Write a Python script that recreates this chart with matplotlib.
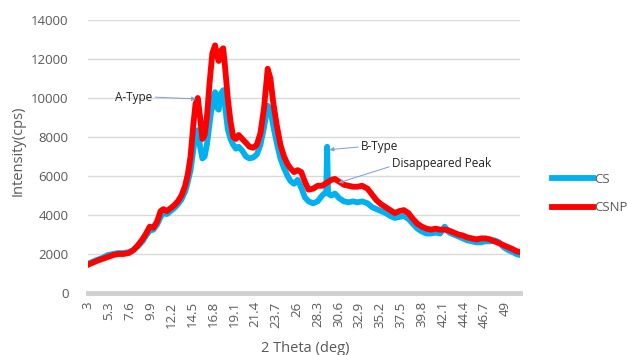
import matplotlib
matplotlib.use('Agg')
import matplotlib.pyplot as plt

# 2-theta positions and intensities (cps) for both samples
theta_csnp = [3.0, 3.5, 4.0, 4.6, 5.2, 5.8, 6.3, 6.9, 7.5, 8.0, 8.5, 9.0, 9.4, 9.8,
              10.2, 10.6, 11.0, 11.3, 11.7, 12.1, 12.5, 12.9, 13.3, 13.7, 14.0, 14.3,
              14.6, 14.85, 15.1, 15.35, 15.6, 15.85, 16.1, 16.4, 16.7, 17.0, 17.2, 17.4,
              17.6, 17.9, 18.1, 18.4, 18.7, 19.0, 19.3, 19.6, 20.0, 20.4, 20.8, 21.2,
              21.6, 22.0, 22.4, 22.8, 23.1, 23.4, 23.8, 24.2, 24.6, 25.0, 25.3, 25.7,
              26.1, 26.5, 26.9, 27.3, 27.8, 28.3, 28.8, 29.3, 29.8, 30.2, 30.7, 31.2,
              31.7, 32.2, 32.7, 33.2, 33.8, 34.3, 34.8, 35.3, 35.8, 36.3, 36.8, 37.3,
              37.8, 38.3, 38.8, 39.3, 39.8, 40.3, 40.8, 41.3, 41.8, 42.3, 42.8, 43.3,
              43.8, 44.3, 44.8, 45.3, 45.8, 46.3, 46.8, 47.3, 47.8, 48.3, 48.8, 49.3,
              49.8, 50.2, 50.6]
csnp = [1450, 1550, 1650, 1750, 1850, 1950, 2000, 2000, 2050, 2200, 2450, 2750, 3050, 3400,
        3350, 3650, 4200, 4300, 4200, 4350, 4500, 4700, 5000, 5500, 6100, 7000,
        8600, 9700, 10000, 9000, 7900, 8100, 9000, 10800, 12300, 12700, 12200, 11900,
        12400, 12550, 11600, 10000, 8800, 8000, 7900, 8100, 7900, 7700, 7500, 7450,
        7600, 8200, 9500, 11500, 11000, 9800, 8600, 7600, 7000, 6600, 6400, 6200,
        6300, 6200, 5700, 5300, 5350, 5500, 5500, 5650, 5800, 5850, 5700, 5550,
        5500, 5450, 5450, 5500, 5350, 5050, 4750, 4550, 4400, 4250, 4100, 4200,
        4250, 4100, 3800, 3550, 3400, 3300, 3250, 3300, 3250, 3250, 3200, 3100,
        3000, 2950, 2850, 2800, 2750, 2800, 2800, 2750, 2650, 2550, 2450, 2350,
        2250, 2150, 2100]

theta_cs = [3.0, 3.5, 4.0, 4.6, 5.2, 5.8, 6.3, 6.9, 7.5, 8.0, 8.5, 9.0, 9.4, 9.8,
            10.2, 10.6, 11.0, 11.3, 11.7, 12.1, 12.5, 12.9, 13.3, 13.7, 14.0, 14.3,
            14.6, 14.85, 15.1, 15.35, 15.6, 15.85, 16.1, 16.4, 16.7, 17.0, 17.2, 17.4,
            17.6, 17.9, 18.1, 18.4, 18.7, 19.0, 19.3, 19.6, 20.0, 20.4, 20.8, 21.2,
            21.6, 22.0, 22.4, 22.8, 23.1, 23.4, 23.8, 24.2, 24.6, 25.0, 25.3, 25.7,
            26.1, 26.5, 26.9, 27.3, 27.8, 28.3, 28.8, 29.25, 29.35, 29.45, 29.8, 30.2,
            30.7, 31.2, 31.7, 32.2, 32.7, 33.2, 33.8, 34.3, 34.8, 35.3, 35.8, 36.3,
            36.8, 37.3, 37.8, 38.3, 38.8, 39.3, 39.8, 40.3, 40.8, 41.3, 41.8, 42.3,
            42.8, 43.3, 43.8, 44.3, 44.8, 45.3, 45.8, 46.3, 46.8, 47.3, 47.8, 48.3,
            48.8, 49.3, 49.8, 50.2, 50.6]
cs = [1500, 1600, 1700, 1800, 1950, 2000, 2050, 2050, 2100, 2200, 2400, 2650, 2950, 3200,
      3250, 3500, 3900, 4100, 4050, 4200, 4350, 4550, 4800, 5200, 5700, 6300,
      7300, 8200, 8350, 7500, 6900, 7000, 7600, 8700, 9800, 10300, 9500, 9400,
      10200, 10400, 9600, 8400, 7900, 7600, 7400, 7500, 7300, 7000, 6900, 6950,
      7100, 7600, 8500, 9600, 9400, 8600, 7700, 6900, 6400, 6000, 5750, 5600,
      5800, 5400, 4900, 4700, 4600, 4700, 5000, 5200, 7500, 5100, 5000, 5100,
      4850, 4700, 4650, 4700, 4650, 4700, 4600, 4400, 4300, 4200, 4100, 3950,
      3850, 3900, 3950, 3800, 3550, 3300, 3150, 3050, 3050, 3100, 3050, 3400,
      3100, 3000, 2900, 2800, 2700, 2650, 2600, 2600, 2650, 2650, 2700, 2600,
      2350, 2200, 2100, 2000, 1950]

tick_pos = [3 + 2.3 * i for i in range(21)]
tick_lbl = ['%g' % round(v, 1) for v in tick_pos]

grey = '#595959'
plt.rcParams['font.family'] = ['Open Sans', 'DejaVu Sans']

fig = plt.figure(figsize=(6.27, 3.55), dpi=100)
ax = fig.add_axes([88 / 627, 1 - 293 / 355, (520 - 88) / 627, (293 - 20) / 355])

ax.plot(theta_cs, cs, color='#00B0F0', lw=4.2, label='CS', solid_joinstyle='round')
ax.plot(theta_csnp, csnp, color='#FF0000', lw=4.2, label='CSNP', solid_joinstyle='round')

ax.set_xlim(3, 50.6)
ax.set_ylim(0, 14000)
ax.set_yticks(range(0, 14001, 2000))
ax.set_xticks(tick_pos)
ax.set_xticklabels(tick_lbl, rotation=90)
ax.tick_params(length=0, colors=grey, labelsize=9.5)
ax.tick_params(axis='y', pad=14)
ax.tick_params(axis='x', pad=6)
ax.grid(axis='y', color='#d9d9d9', lw=1)
ax.set_axisbelow(True)
for s in ['top', 'right', 'left']:
    ax.spines[s].set_visible(False)
ax.spines['bottom'].set_color('#d0d0d0')
ax.spines['bottom'].set_linewidth(3.5)

arrow = dict(arrowstyle='-|>', color='#7f9fc8', lw=0.7, mutation_scale=6,
             shrinkA=0, shrinkB=0)
ax.annotate('A-Type', xy=(14.9, 9950), xytext=(6.0, 10050), fontsize=8.5,
            va='center', ha='left', color='#222222',
            arrowprops=dict(arrow, relpos=(1, 0.5)))
ax.annotate('B-Type', xy=(29.6, 7350), xytext=(33.1, 7500), fontsize=8.5,
            va='center', ha='left', color='#222222',
            arrowprops=dict(arrow, relpos=(0, 0.5)))
ax.annotate('Disappeared Peak', xy=(30.6, 5650), xytext=(36.5, 6650), fontsize=8.5,
            va='center', ha='left', color='#222222',
            arrowprops=dict(arrow, relpos=(0, 0.3)))

ax.set_ylabel('Intensity(cps)', fontsize=10.5, color=grey)
ax.yaxis.set_label_coords(-0.145, 0.52)
fig.text(305 / 627, 1 - 348 / 355, '2 Theta (deg)', fontsize=10.5, color=grey,
         ha='center', va='center')

fig.legend(loc='upper left', bbox_to_anchor=(545 / 627, 1 - 166 / 355), frameon=False,
           fontsize=9.5, handlelength=3.1, handletextpad=0.1, labelspacing=1.2,
           borderpad=0, labelcolor=grey)

fig.savefig('out.png', dpi=100)
